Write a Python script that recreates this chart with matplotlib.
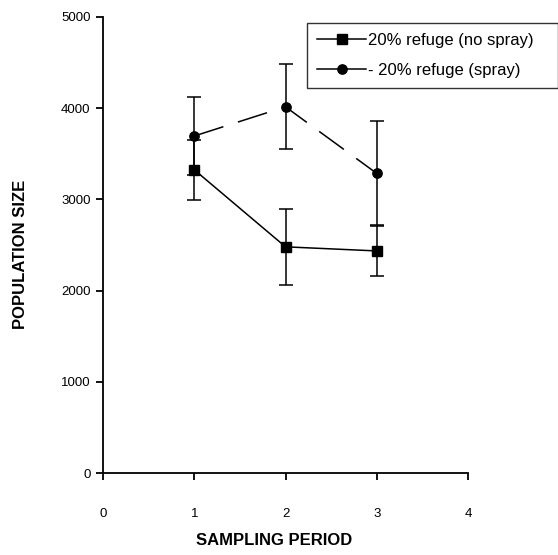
import matplotlib.pyplot as plt
from matplotlib.lines import Line2D

plt.rcParams['font.family'] = ['Liberation Sans', 'DejaVu Sans']

# data
periods = [1, 2, 3]
no_spray = [3325, 2480, 2435]
no_spray_err = [330, 415, 275]
spray = [3695, 4015, 3285]
spray_err = [425, 465, 570]

fig = plt.figure(figsize=(5.58, 5.55), dpi=100)
ax = fig.add_axes([0.1846, 0.1477, 0.6541, 0.8217])

ax.errorbar(periods, no_spray, yerr=no_spray_err, color='black', lw=1.1,
            marker='s', markersize=7.5, capsize=5, elinewidth=1.1, capthick=1.1)
ax.errorbar(periods, spray, yerr=spray_err, color='black', lw=1.1,
            linestyle=(0, (20, 10)), marker='o', markersize=6.7,
            capsize=5, elinewidth=1.1, capthick=1.1)

ax.set_xlim(0, 4)
ax.set_ylim(0, 5000)
ax.set_xticks([0, 1, 2, 3, 4])
ax.set_yticks([0, 1000, 2000, 3000, 4000, 5000])
ax.spines['top'].set_visible(False)
ax.spines['right'].set_visible(False)
ax.spines['left'].set_linewidth(1.3)
ax.spines['bottom'].set_linewidth(1.3)
ax.tick_params(axis='x', direction='out', length=5, width=1.3, pad=20, labelsize=9.5)
ax.tick_params(axis='y', direction='out', length=5, width=1.3, pad=4, labelsize=9.5)

fig.text(0.036, 0.542, 'POPULATION SIZE', rotation=90, ha='center', va='center',
         fontsize=12, fontweight='bold')
fig.text(0.491, 0.013, 'SAMPLING PERIOD', ha='center', va='bottom',
         fontsize=12, fontweight='bold')

handles = [Line2D([], [], color='black', lw=1.1, marker='s', markersize=7.5),
           Line2D([], [], color='black', lw=1.1, marker='o', markersize=6.7)]
leg = fig.legend(handles, ['20% refuge (no spray)   ', '- 20% refuge (spray)'],
                 loc='upper right', bbox_to_anchor=(1.0, 0.9586), borderaxespad=0,
                 fontsize=12, frameon=True, fancybox=False, handlelength=2.9,
                 borderpad=0.62, labelspacing=0.86, handletextpad=0.15)
leg.get_frame().set_edgecolor('black')
leg.get_frame().set_linewidth(1.0)

fig.savefig('out.png', dpi=100)
